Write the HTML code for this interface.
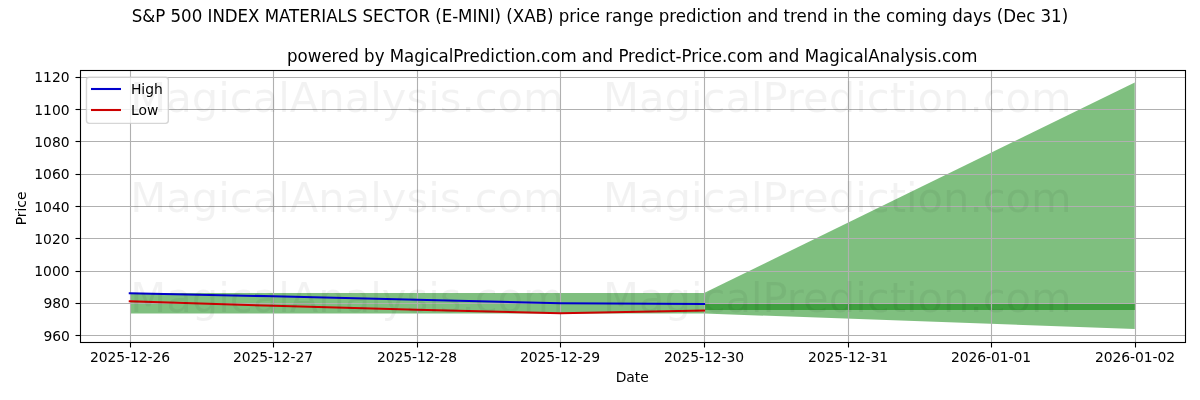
<!DOCTYPE html>
<html lang="en"><head><meta charset="utf-8"><title>S&amp;P 500 INDEX MATERIALS SECTOR (E-MINI) (XAB) price range prediction</title>
<style>
html,body{margin:0;padding:0;background:#fff;}
body{width:1200px;height:400px;overflow:hidden;}
svg{display:block;}
text{font-family:"DejaVu Sans","Liberation Sans",sans-serif;fill:#000;}
.t10{font-size:13.889px;}
.t12{font-size:16.667px;}
.wm{font-size:41.667px;fill:#000000;fill-opacity:0.05;}
.grid line{stroke:#b0b0b0;stroke-width:1.111;}
.tick line,.spine{stroke:#000;stroke-width:1.111;fill:none;}
</style></head><body>
<svg width="1200" height="400" viewBox="0 0 1200 400">
<rect x="0" y="0" width="1200" height="400" fill="#ffffff"/>
<g fill="#008000" fill-opacity="0.5" stroke="none">
<polygon points="130,293 704,293 704,313.5 130,313.5"/>
<polygon points="704.05,293 1134.75,82.5 1134.75,329 704.05,313.5"/>
<polygon points="704,304 1135,304 1135,310 704,310"/>
</g>
<g class="grid">
<line x1="130.5" y1="70.5" x2="130.5" y2="342.5"/>
<line x1="273.5" y1="70.5" x2="273.5" y2="342.5"/>
<line x1="417.5" y1="70.5" x2="417.5" y2="342.5"/>
<line x1="560.5" y1="70.5" x2="560.5" y2="342.5"/>
<line x1="704.5" y1="70.5" x2="704.5" y2="342.5"/>
<line x1="848.5" y1="70.5" x2="848.5" y2="342.5"/>
<line x1="991.5" y1="70.5" x2="991.5" y2="342.5"/>
<line x1="1135.5" y1="70.5" x2="1135.5" y2="342.5"/>
<line x1="80.5" y1="77.5" x2="1185.5" y2="77.5"/>
<line x1="80.5" y1="109.5" x2="1185.5" y2="109.5"/>
<line x1="80.5" y1="141.5" x2="1185.5" y2="141.5"/>
<line x1="80.5" y1="174.5" x2="1185.5" y2="174.5"/>
<line x1="80.5" y1="206.5" x2="1185.5" y2="206.5"/>
<line x1="80.5" y1="238.5" x2="1185.5" y2="238.5"/>
<line x1="80.5" y1="271.5" x2="1185.5" y2="271.5"/>
<line x1="80.5" y1="303.5" x2="1185.5" y2="303.5"/>
<line x1="80.5" y1="335.5" x2="1185.5" y2="335.5"/>
</g>
<polyline points="129.776,293.211 273.344,296.328 416.912,299.72 560.48,303.321 704.048,303.951" fill="none" stroke="#0000cc" stroke-width="2.083" stroke-linecap="square" stroke-linejoin="round"/>
<polyline points="129.776,301.318 273.344,305.824 416.912,309.716 560.48,313.237 704.048,310.491" fill="none" stroke="#cc0000" stroke-width="2.083" stroke-linecap="square" stroke-linejoin="round"/>
<g class="tick">
<line x1="130.5" y1="342.5" x2="130.5" y2="347.5"/>
<line x1="273.5" y1="342.5" x2="273.5" y2="347.5"/>
<line x1="417.5" y1="342.5" x2="417.5" y2="347.5"/>
<line x1="560.5" y1="342.5" x2="560.5" y2="347.5"/>
<line x1="704.5" y1="342.5" x2="704.5" y2="347.5"/>
<line x1="848.5" y1="342.5" x2="848.5" y2="347.5"/>
<line x1="991.5" y1="342.5" x2="991.5" y2="347.5"/>
<line x1="1135.5" y1="342.5" x2="1135.5" y2="347.5"/>
<line x1="75.5" y1="77.5" x2="80.5" y2="77.5"/>
<line x1="75.5" y1="109.5" x2="80.5" y2="109.5"/>
<line x1="75.5" y1="141.5" x2="80.5" y2="141.5"/>
<line x1="75.5" y1="174.5" x2="80.5" y2="174.5"/>
<line x1="75.5" y1="206.5" x2="80.5" y2="206.5"/>
<line x1="75.5" y1="238.5" x2="80.5" y2="238.5"/>
<line x1="75.5" y1="271.5" x2="80.5" y2="271.5"/>
<line x1="75.5" y1="303.5" x2="80.5" y2="303.5"/>
<line x1="75.5" y1="335.5" x2="80.5" y2="335.5"/>
</g>
<rect class="spine" x="80.5" y="70.5" width="1105.0" height="272.0"/>
<g class="t10">
<text x="90" y="362" textLength="80" lengthAdjust="spacing">2025-12-26</text>
<text x="233" y="362" textLength="80" lengthAdjust="spacing">2025-12-27</text>
<text x="377" y="362" textLength="80" lengthAdjust="spacing">2025-12-28</text>
<text x="520" y="362" textLength="80" lengthAdjust="spacing">2025-12-29</text>
<text x="664" y="362" textLength="80" lengthAdjust="spacing">2025-12-30</text>
<text x="808" y="362" textLength="80" lengthAdjust="spacing">2025-12-31</text>
<text x="951" y="362" textLength="80" lengthAdjust="spacing">2026-01-01</text>
<text x="1095" y="362" textLength="80" lengthAdjust="spacing">2026-01-02</text>
</g>
<g class="t10" text-anchor="end">
<text x="69.55" y="82">1120</text>
<text x="69.55" y="115">1100</text>
<text x="69.55" y="147">1080</text>
<text x="69.55" y="179">1060</text>
<text x="69.55" y="212">1040</text>
<text x="69.55" y="244">1020</text>
<text x="69.55" y="276">1000</text>
<text x="69.95" y="308">980</text>
<text x="69.95" y="341">960</text>
</g>
<text class="t10" text-anchor="middle" x="632.26" y="382">Date</text>
<text class="t10" text-anchor="middle" transform="translate(26,208.4) rotate(-90)">Price</text>
<text class="t12" text-anchor="middle" transform="translate(600,22) scale(1,1.065)" textLength="936.375" lengthAdjust="spacing">S&amp;P 500 INDEX MATERIALS SECTOR (E-MINI) (XAB) price range prediction and trend in the coming days (Dec 31)</text>
<text class="t12" text-anchor="middle" transform="translate(632.26,62) scale(1,1.065)" textLength="690.375" lengthAdjust="spacing">powered by MagicalPrediction.com and Predict-Price.com and MagicalAnalysis.com</text>
<rect x="86.47" y="77.27" width="81.875" height="46.06" rx="2.78" ry="2.78" fill="#ffffff" fill-opacity="0.8" stroke="#cccccc" stroke-opacity="0.8" stroke-width="1.389"/>
<line x1="91" y1="89" x2="121" y2="89" stroke="#0000cc" stroke-width="2.083"/>
<line x1="91" y1="110" x2="121" y2="110" stroke="#cc0000" stroke-width="2.083"/>
<text class="t10" x="130.92" y="93.63">High</text>
<text class="t10" x="130.92" y="114.58">Low</text>
<g class="wm">
<text x="130.3" y="111.6">MagicalAnalysis.com</text>
<text x="603" y="111.6">MagicalPrediction.com</text>
<text x="130.3" y="211.6">MagicalAnalysis.com</text>
<text x="603" y="211.6">MagicalPrediction.com</text>
<text x="130.3" y="311.6">MagicalAnalysis.com</text>
<text x="603" y="311.6">MagicalPrediction.com</text>
</g>
</svg></body></html>
